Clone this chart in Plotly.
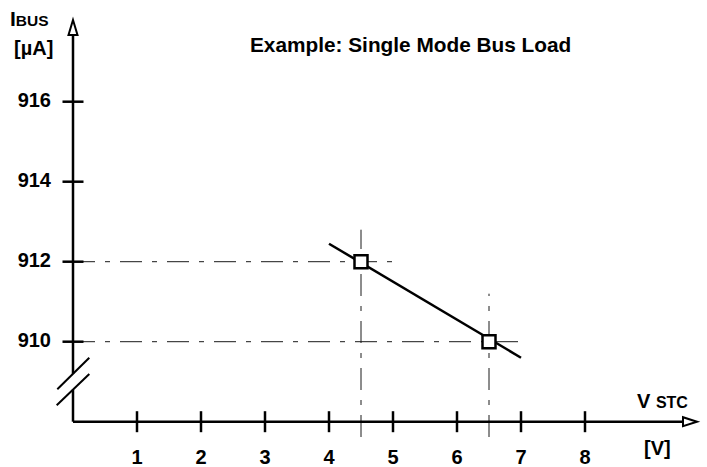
import plotly.graph_objects as go

# ---------------- data ----------------
x_ticks = [1, 2, 3, 4, 5, 6, 7, 8]
x_tick_labels = ["1", "2", "3", "4", "5", "6", "7", "8"]
y_ticks = [910, 912, 914, 916]
y_tick_labels = ["910", "912", "914", "916"]
line_v = [4.0, 7.0]            # load line V_STC [V]
line_i = [912.45, 909.6]       # load line I_BUS [uA]
point_v = [4.5, 6.5]           # marked operating points
point_i = [912, 910]
title_text = "Example: Single Mode Bus Load"

# ---------------- frame (pixel <-> data) ----------------
W, H = 707, 467
X0_PX, Y0_PX = 73.0, 421.7      # pixel position of axes origin
PX_V, PX_UA = 64.0, 40.0        # pixels per unit
Y_BASE = 908.0                  # value at the (broken) x axis
X_END = 9.75                    # x-axis arrow tip

def px_x(px):                   # pixel -> data x
    return (px - X0_PX) / PX_V

def px_y(py):                   # pixel -> data y
    return Y_BASE + (Y0_PX - py) / PX_UA

dx = lambda p: p / PX_V
dy = lambda p: p / PX_UA

FONT = "Liberation Sans, Arial, Helvetica, sans-serif"
BLACK = "#000000"

fig = go.Figure()

shapes = []
# reference dash-dot lines
dash = "22px,10px,5px,10px"
h_ext = [5.0, 7.0]
v_top = [912.8, 911.2]
for v, i, he, vt in zip(point_v, point_i, h_ext, v_top):
    shapes.append(dict(type="line", xref="x", yref="y", x0=0, x1=he, y0=i, y1=i,
                       line=dict(color="#1a1a1a", width=1, dash=dash), layer="below"))
    shapes.append(dict(type="line", xref="x", yref="y", x0=v, x1=v, y0=px_y(437), y1=vt,
                       line=dict(color="#1a1a1a", width=1, dash=dash), layer="below"))

# x axis line + arrow
AX_W = 2.5
shapes.append(dict(type="line", xref="x", yref="y", x0=0, x1=X_END - dx(13), y0=Y_BASE, y1=Y_BASE,
                   line=dict(color=BLACK, width=AX_W)))
shapes.append(dict(type="path", xref="x", yref="y",
                   path=f"M {X_END} {Y_BASE} L {X_END - dx(14)} {Y_BASE + dy(4.5)} "
                        f"L {X_END - dx(14)} {Y_BASE - dy(4.5)} Z",
                   fillcolor="white", line=dict(color=BLACK, width=2)))
# y axis line (with break) + arrow
gap_lo, gap_hi = px_y(389.6), px_y(373.8)
y_tip, y_base_arrow = px_y(20), px_y(35)
shapes.append(dict(type="line", xref="x", yref="y", x0=0, x1=0, y0=Y_BASE, y1=gap_lo,
                   line=dict(color=BLACK, width=AX_W)))
shapes.append(dict(type="line", xref="x", yref="y", x0=0, x1=0, y0=gap_hi, y1=y_base_arrow,
                   line=dict(color=BLACK, width=AX_W)))
shapes.append(dict(type="path", xref="x", yref="y",
                   path=f"M 0 {y_tip} L {dx(4.5)} {y_base_arrow} L {-dx(4.5)} {y_base_arrow} Z",
                   fillcolor="white", line=dict(color=BLACK, width=2)))
# break marks
for (ax, ay, bx, by) in [(57.3, 389.3, 89.3, 357.7), (56.7, 405.3, 89.3, 374.0)]:
    shapes.append(dict(type="line", xref="x", yref="y", x0=px_x(ax), y0=px_y(ay),
                       x1=px_x(bx), y1=px_y(by), line=dict(color=BLACK, width=2)))

# tick marks
fig.add_trace(go.Scatter(x=x_ticks, y=[Y_BASE] * len(x_ticks), mode="markers",
                         marker=dict(symbol="line-ns", size=15,
                                     line=dict(color=BLACK, width=2.5)),
                         hoverinfo="skip", showlegend=False))
fig.add_trace(go.Scatter(x=[0] * len(y_ticks), y=y_ticks, mode="markers",
                         marker=dict(symbol="line-ew", size=15,
                                     line=dict(color=BLACK, width=2.5)),
                         hoverinfo="skip", showlegend=False))
# tick labels
fig.add_trace(go.Scatter(x=x_ticks, y=[Y_BASE - dy(37)] * len(x_ticks), mode="text",
                         text=x_tick_labels, textposition="middle center",
                         textfont=dict(family=FONT, size=20, color=BLACK, weight="bold"),
                         hoverinfo="skip", showlegend=False))
fig.add_trace(go.Scatter(x=[-dx(22)] * len(y_ticks), y=y_ticks, mode="text",
                         text=y_tick_labels, textposition="middle left",
                         textfont=dict(family=FONT, size=20, color=BLACK, weight="bold"),
                         hoverinfo="skip", showlegend=False))

# load line and points
fig.add_trace(go.Scatter(x=line_v, y=line_i, mode="lines",
                         line=dict(color=BLACK, width=2.5), showlegend=False))
fig.add_trace(go.Scatter(x=point_v, y=point_i, mode="markers",
                         marker=dict(symbol="square", size=13, color="white",
                                     line=dict(color=BLACK, width=2.5)),
                         showlegend=False))

ann_font = dict(family=FONT, size=20, color=BLACK, weight="bold")
annotations = [
    dict(text=title_text, x=px_x(410), y=px_y(44.5), xanchor="center", yanchor="middle",
         font=dict(family=FONT, size=20.8, color=BLACK, weight="bold")),
    dict(text="<span style='font-size:21px'>I</span>BUS", x=px_x(8), y=px_y(18),
         xanchor="left", yanchor="middle", font=dict(family=FONT, size=15.5, color=BLACK, weight="bold")),
    dict(text="[µA]", x=px_x(33), y=px_y(48), xanchor="center", yanchor="middle", font=ann_font),
    dict(text="V <span style='font-size:16px'>STC</span>", x=px_x(635), y=px_y(401),
         xanchor="left", yanchor="middle", font=ann_font),
    dict(text="[V]", x=px_x(657), y=px_y(448), xanchor="center", yanchor="middle", font=ann_font),
]
for a in annotations:
    a.update(xref="x", yref="y", showarrow=False)

fig.update_layout(
    width=W, height=H, autosize=False,
    margin=dict(l=0, r=0, t=0, b=0, pad=0),
    paper_bgcolor="white", plot_bgcolor="white",
    xaxis=dict(range=[px_x(0), px_x(W)], visible=False, fixedrange=True),
    yaxis=dict(range=[px_y(H), px_y(0)], visible=False, fixedrange=True),
    shapes=shapes, annotations=annotations,
    showlegend=False, hovermode=False,
)

# remove the page's default body margin so the figure fills the window exactly
fig.write_html(
    "out.html",
    config={"displayModeBar": False, "staticPlot": True},
    post_script="document.body.style.margin='0';document.body.style.overflow='hidden';",
)
